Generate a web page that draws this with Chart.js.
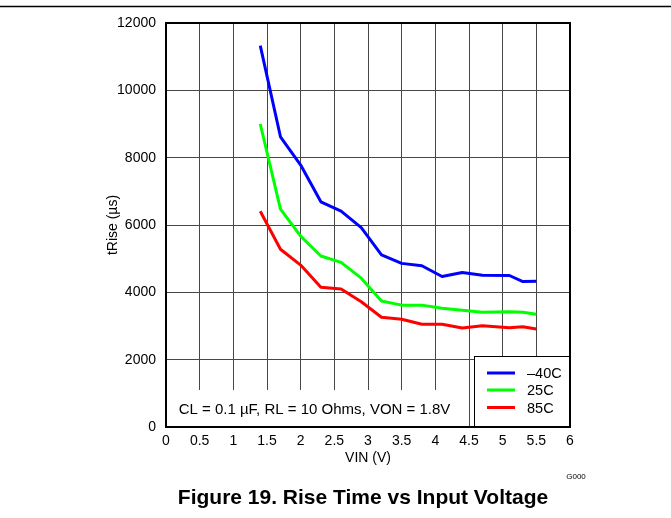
<!DOCTYPE html>
<html>
<head>
<meta charset="utf-8">
<script src="https://cdn.jsdelivr.net/npm/chart.js@4/dist/chart.umd.min.js"></script>
<style>
html,body{margin:0;padding:0;background:#fff;}
#wrap{width:671px;height:518px;position:relative;}
</style>
</head>
<body>
<div id="wrap"><canvas id="c" width="671" height="518"></canvas></div>
<script>
const vin = [1.4,1.7,2.0,2.3,2.6,2.9,3.2,3.5,3.8,4.1,4.4,4.7,5.1,5.3,5.5];
const riseM40 = [11330,8620,7780,6690,6410,5920,5110,4860,4790,4470,4590,4510,4500,4320,4330];
const rise25  = [9000,6470,5670,5080,4890,4420,3740,3620,3620,3530,3470,3410,3420,3410,3350];
const rise85  = [6410,5280,4810,4150,4100,3720,3260,3200,3050,3050,2940,3010,2950,2980,2910];
const seriesNames = ['\u201340C','25C','85C'];
const seriesColors = ['#0000ff','#00ff00','#ff0000'];
const xTickLabels = ['0','0.5','1','1.5','2','2.5','3','3.5','4','4.5','5','5.5','6'];
const yTickLabels = ['0','2000','4000','6000','8000','10000','12000'];
const noteText = 'CL = 0.1 \u00b5F, RL = 10 Ohms, VON = 1.8V';
const titleText = 'Figure 19. Rise Time vs Input Voltage';
const FONT = 'Arial, "Liberation Sans", sans-serif';

function pts(ys){ return vin.map((x,i)=>({x:x,y:ys[i]})); }

const decor = {
  id:'decor',
  beforeDatasetsDraw(chart){
    const ctx = chart.ctx, a = chart.chartArea;
    ctx.save();
    ctx.fillStyle = '#fff';
    ctx.fillRect(a.left+1, 390, 468 - a.left - 1, a.bottom - 390);
    ctx.fillStyle = '#000';
    ctx.font = '15px ' + FONT;
    ctx.textAlign = 'center';
    ctx.textBaseline = 'middle';
    ctx.fillText(noteText, 314.5, 410);
    ctx.restore();
  },
  afterDraw(chart){
    const ctx = chart.ctx, a = chart.chartArea;
    ctx.save();
    // legend box
    ctx.fillStyle = '#fff';
    ctx.fillRect(474, 356, a.right - 474, a.bottom - 356);
    ctx.strokeStyle = '#000';
    ctx.lineWidth = 1;
    ctx.strokeRect(474.5, 356.5, a.right - 474.5, a.bottom - 356.5);
    const rows = [373, 390, 407.5];
    ctx.lineWidth = 3;
    ctx.font = '14.5px ' + FONT;
    ctx.textAlign = 'left';
    ctx.textBaseline = 'middle';
    for (let i=0;i<3;i++){
      ctx.strokeStyle = seriesColors[i];
      ctx.beginPath(); ctx.moveTo(487, rows[i]); ctx.lineTo(515, rows[i]); ctx.stroke();
      ctx.fillStyle = '#000';
      ctx.fillText(seriesNames[i], 527, rows[i]+1);
    }
    // plot border
    ctx.strokeStyle = '#000';
    ctx.lineWidth = 2;
    ctx.strokeRect(a.left, a.top, a.right - a.left, a.bottom - a.top);
    // top rule
    ctx.lineWidth = 1.5;
    ctx.beginPath(); ctx.moveTo(0, 6.5); ctx.lineTo(671, 6.5); ctx.stroke();
    // G000
    ctx.fillStyle = '#000';
    ctx.font = '8px ' + FONT;
    ctx.textAlign = 'center';
    ctx.fillText('G000', 576, 477);
    // figure title
    ctx.font = 'bold 21px ' + FONT;
    ctx.fillText(titleText, 363, 498);
    ctx.restore();
  }
};

new Chart(document.getElementById('c'), {
  type:'line',
  data:{
    datasets:[
      {label:seriesNames[0], data:pts(riseM40), borderColor:seriesColors[0]},
      {label:seriesNames[1], data:pts(rise25), borderColor:seriesColors[1]},
      {label:seriesNames[2], data:pts(rise85), borderColor:seriesColors[2]}
    ]
  },
  options:{
    responsive:false,
    animation:false,
    devicePixelRatio:1,
    layout:{padding:{left:101, right:101, top:23, bottom:47}},
    elements:{
      point:{radius:0},
      line:{borderWidth:3, tension:0, fill:false, borderJoinStyle:'round', borderCapStyle:'butt'}
    },
    plugins:{legend:{display:false}, tooltip:{enabled:false}, title:{display:false}},
    scales:{
      x:{
        type:'linear', min:0, max:6,
        border:{display:false},
        grid:{color:'#474747', lineWidth:1, drawTicks:false},
        afterFit(s){ s.height = 44; },
        afterBuildTicks(s){ s.ticks = xTickLabels.map(t=>({value:parseFloat(t)})); },
        ticks:{autoSkip:false, maxRotation:0, padding:6, color:'#000', font:{family:FONT, size:14},
          callback:(v,i)=>xTickLabels[i]},
        title:{display:true, text:'VIN (V)', color:'#000', font:{family:FONT, size:14}, padding:{top:0,bottom:4}}
      },
      y:{
        type:'linear', min:0, max:12000,
        border:{display:false},
        grid:{color:'#474747', lineWidth:1, drawTicks:false},
        afterFit(s){ s.width = 65; },
        afterBuildTicks(s){ s.ticks = yTickLabels.map(t=>({value:parseFloat(t)})); },
        ticks:{padding:10, color:'#000', font:{family:FONT, size:14},
          callback:(v,i)=>yTickLabels[i]},
        title:{display:true, text:'tRise (\u00b5s)', color:'#000', font:{family:FONT, size:14}, padding:{top:4,bottom:4}}
      }
    }
  },
  plugins:[decor]
});
</script>
</body>
</html>
